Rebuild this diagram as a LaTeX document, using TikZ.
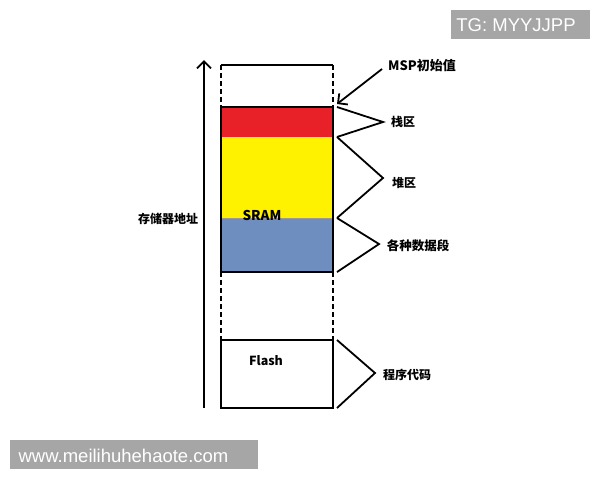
\documentclass[tikz,border=0pt]{standalone}
\usepackage{fontspec}
\setmainfont{Liberation Sans}
\newfontfamily\cjk{Noto Sans CJK SC}
\usetikzlibrary{arrows.meta}
\definecolor{stackred}{RGB}{232,32,40}
\definecolor{heapyellow}{RGB}{255,242,0}
\definecolor{datablue}{RGB}{110,142,192}
\definecolor{wmgray}{RGB}{166,166,166}
\tikzset{
  blk/.style={rectangle, inner sep=0pt, outer sep=0pt, minimum width=112pt, anchor=north west},
  mline/.style={line width=2pt, black},
  dline/.style={line width=2pt, black, dash pattern=on 5pt off 3pt},
  brace/.style={line width=1.8pt, black, line join=miter},
  lbl/.style={font=\cjk\bfseries, inner sep=0pt},
  wm/.style={fill=wmgray, text=white, inner sep=0pt, font=\fontsize{18.5}{20}\selectfont},
  barb/.style={-{Straight Barb[length=7pt,width=14pt,line width=1.8pt]}, line width=1.8pt}
}
\begin{document}
\begin{tikzpicture}[x=1pt,y=-1pt]
\useasboundingbox[fill=white] (0,0) rectangle (600,480);
% memory blocks
\node[blk, fill=stackred, minimum height=30pt] (stack) at (221,107) {};
\node[blk, fill=heapyellow, minimum height=81pt] (heap) at (221,137) {};
\node[blk, fill=datablue, minimum height=54pt] (data) at (221,218) {};
\node[blk, draw, line width=2pt, minimum height=68pt] (flash) at (221,340) {};
\draw[line width=0.5pt, black!40] (heap.south west) -- (heap.south east);
% outlines
\draw[mline] (stack.north west) -- (stack.north east);
\draw[mline] (stack.north west) -- (data.south west) -- (data.south east) -- (stack.north east);
\coordinate (topL) at (221,65);
\coordinate (topR) at (333,65);
\draw[mline] (topL) -- (topR);
\draw[dline] (topL) -- (stack.north west);
\draw[dline] (topR) -- (stack.north east);
\draw[dline] (data.south west) -- (flash.north west);
\draw[dline] (data.south east) -- (flash.north east);
% address axis
\coordinate (axb) at (204,408);
\coordinate (axt) at (204,60);
\draw[barb] (axb) -- (axt);
\node[lbl, font=\cjk\bfseries\fontsize{12}{14}\selectfont] (addr) at (168,219) {存储器地址};
% labels inside
\node[lbl, font=\cjk\bfseries\fontsize{13.5}{15}\selectfont] (sram) at (262,215) {SRAM};
\node[lbl, font=\cjk\bfseries\fontsize{12.5}{14}\selectfont] (flashlbl) at (266,361) {Flash};
% MSP arrow
\node[lbl, font=\cjk\bfseries\fontsize{13}{15}\selectfont] (msp) at (422,66) {MSP初始值};
\coordinate (mspa) at (382,69);
\coordinate (mspb) at (337,104);
\draw[barb] (mspa) -- (mspb);
% braces
\coordinate (s1) at (337,107); \coordinate (s2) at (383,122); \coordinate (s3) at (337,137);
\draw[brace] (s1) -- (s2) -- (s3);
\node[lbl, font=\cjk\bfseries\fontsize{12}{14}\selectfont] (stacklbl) at (403,122) {栈区};
\coordinate (h1) at (337,137); \coordinate (h2) at (383,178); \coordinate (h3) at (337,218);
\draw[brace] (h1) -- (h2) -- (h3);
\node[lbl, font=\cjk\bfseries\fontsize{12}{14}\selectfont] (heaplbl) at (404,183) {堆区};
\coordinate (d1) at (337,218); \coordinate (d2) at (379,244); \coordinate (d3) at (337,272);
\draw[brace] (d1) -- (d2) -- (d3);
\node[lbl, font=\cjk\bfseries\fontsize{12.5}{15}\selectfont] (datalbl) at (418,246) {各种数据段};
\coordinate (f1) at (337,340); \coordinate (f2) at (375,373); \coordinate (f3) at (337,408);
\draw[brace] (f1) -- (f2) -- (f3);
\node[lbl, font=\cjk\bfseries\fontsize{12}{14}\selectfont] (codelbl) at (407,375) {程序代码};
% watermarks
\fill[wmgray] (451,10) rectangle (590,39);
\node[wm, fill=none] (tg) at (516,25) {TG: MYYJJPP};
\fill[wmgray] (10,440) rectangle (258,469);
\node[wm, fill=none] (www) at (123.5,455.5) {www.meilihuhehaote.com};
\end{tikzpicture}
\end{document}
